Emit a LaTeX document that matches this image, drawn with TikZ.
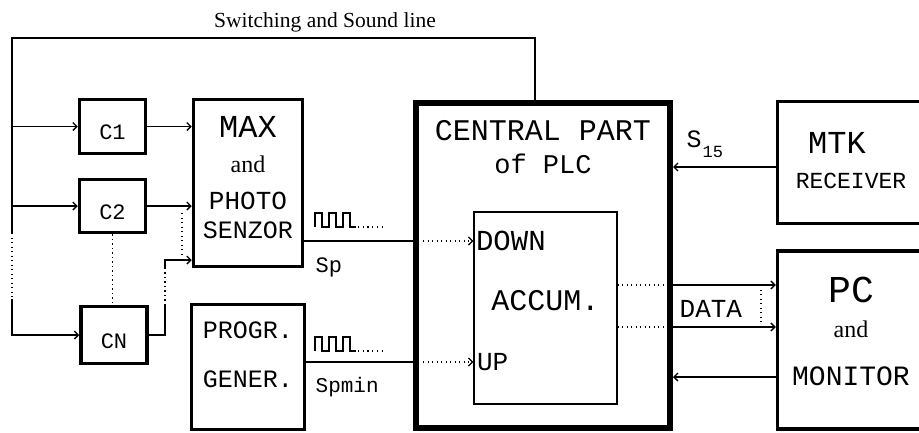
\documentclass[tikz,border=0pt]{standalone}
\usepackage{fontspec}
\setmainfont{Liberation Serif}
\setmonofont{Liberation Mono}
\usetikzlibrary{arrows.meta}
\newcommand{\fsz}[1]{\fontsize{#1}{#1}\selectfont}
% small square wave with trailing dots
\newcommand{\pulsetrain}[1]{%
  \draw[line width=1.2pt] (#1) -- ++(0,-14) -- ++(7,0) -- ++(0,14) -- ++(7,0)
    -- ++(0,-14) -- ++(7,0) -- ++(0,14) -- ++(7,0)
    -- ++(0,-14) -- ++(7,0) -- ++(0,14) -- ++(6,0);
  \draw[line width=1.2pt, dash pattern=on 1.2pt off 3.5pt] ([xshift=43pt]#1) -- ++(24,0);}

\begin{document}
\begin{tikzpicture}[x=1pt, y=-1pt, line width=1.3pt,
  >={Straight Barb[length=4pt,width=8pt]},
  blk/.style={draw, line width=3.5pt, inner sep=0pt, align=center, font=\ttfamily},
  cbox/.style={blk, minimum width=66pt, text height=26pt, text depth=0pt},
  plcbox/.style={draw, line width=6pt, inner sep=0pt},
  acc/.style={draw, line width=1.2pt, inner sep=0pt, font=\ttfamily},
  lbl/.style={inner sep=0pt, font=\ttfamily},
  dots/.style={line width=1.3pt, dash pattern=on 1.3pt off 3.2pt},
]
\path[use as bounding box, fill=white] (0,0) rectangle (919,432);

\node[cbox, minimum height=54pt] (c1) at (112.5,126.5) {\fsz{22}C1};
\node[cbox, minimum height=53pt] (c2) at (112.5,206) {\fsz{22}C2};
\node[cbox, minimum height=57pt] (cn) at (114,335) {\fsz{22}CN};
\node[blk, minimum width=109pt, minimum height=167pt, text depth=11pt] (max) at (248,183)
  {\fsz{32}MAX\\[17pt]\rmfamily\fsz{24}and\\[19pt]\fsz{26}PHOTO\\[11pt]\fsz{25}SENZOR};
\node[blk, minimum width=113pt, minimum height=125pt, text depth=24pt] (progr) at (248,367)
  {\fsz{25}PROGR.\\[31pt]\fsz{25}GENER.};

\node[plcbox, minimum width=254pt, minimum height=325pt] (plc) at (543,265.5) {};
\node[lbl, anchor=north, align=center] (plctxt) at (543,120)
  {\fsz{30}CENTRAL PART\\[12pt]\fsz{27}of PLC};
\node[acc, minimum width=143pt, minimum height=192pt, text depth=15pt] (accum) at (545.5,308)
  {\fsz{30}ACCUM.};
\node[lbl, anchor=west, inner xsep=2pt] (down) at (accum.west |- 0,241) {\fsz{29}DOWN};
\node[lbl, anchor=west, inner xsep=3pt] (up) at (accum.west |- 0,362) {\fsz{26}UP};

\node[blk, minimum width=147pt, minimum height=122pt, text depth=4pt] (mtk) at (851,162.5)
  {\fsz{32}MTK\hspace*{28pt}\\[19pt]\fsz{23}RECEIVER};
\node[blk, minimum width=147pt, minimum height=178pt, text depth=18pt] (pc) at (851,340)
  {\fsz{38}PC\\[17pt]\rmfamily\fsz{24}and\\[28pt]\fsz{28}MONITOR};

\node[inner sep=0pt, anchor=base, font=\fsz{21.5}] (title) at (325,27) {Switching and Sound line};
\node[lbl, anchor=base west] (sp) at (315,272) {\fsz{22}Sp};
\node[lbl, anchor=base west] (spmin) at (315,392) {\fsz{21}Spmin};
\node[lbl, anchor=base west] (data) at (679,317) {\fsz{26}DATA};
\node[lbl, anchor=base west] (s15) at (686,147) {\fsz{25}S\hspace{1pt}\raisebox{-10pt}{\fsz{17}15}};

% switching and sound bus
\coordinate (bustop) at (12,38);
\coordinate (busA) at (12,233);
\coordinate (busB) at (12,299);
\draw ([xshift=-8pt]plc.north) |- (bustop) -- (busA);
\draw[dots] (busA) -- (busB);
\draw[->] (busB) |- (cn);
\draw[->] (bustop |- c1) -- (c1);
\draw[->] (bustop |- c2) -- (c2);
\draw[dots] (c2.south) -- (c2.south |- cn.north);

\draw[->] (c1) -- (c1 -| max.west);
\draw[->] (c2) -- (c2 -| max.west);
\coordinate (cnA) at (165,305);
\coordinate (cnB) at (165,268);
\coordinate (cnC) at (165,260);
\draw (cn) -- (cn -| cnA) -- (cnA);
\draw[dots] (cnA) -- (cnB);
\draw[->] (cnB) -- (cnC) -- (cnC -| max.west);
\coordinate (inA) at (182,213);
\coordinate (inB) at (182,255);
\draw[dots] (inA) -- (inB);

% pulse signals into the accumulator
\coordinate (pulseA) at (315,227);
\coordinate (pulseB) at (315,351);
\pulsetrain{pulseA}
\pulsetrain{pulseB}
\draw (max.east |- down) -- (plc.west |- down);
\draw[dots, ->] ([xshift=10pt]plc.west |- down) -- (down.west);
\draw (progr.east |- up) -- (plc.west |- up);
\draw[dots, ->] ([xshift=10pt]plc.west |- up) -- (up.west);

% data to PC
\coordinate (dtop) at (673,285);
\coordinate (dbot) at (673,327);
\draw[dots] (accum.east |- dtop) -- ([xshift=-6pt]dtop);
\draw[dots] (accum.east |- dbot) -- ([xshift=-6pt]dbot);
\draw[->] (dtop) -- (pc.west |- dtop);
\draw[->] (dbot) -- (pc.west |- dbot);
\draw[dots] ([xshift=88pt]dtop) -- ([xshift=88pt]dbot);

\draw[->] ([yshift=-4.5pt]mtk.west) -- ([yshift=-4.5pt]mtk.west -| plc.east);
\draw[->] ([yshift=-37pt]pc.west) -- ([yshift=-37pt]pc.west -| plc.east);
\end{tikzpicture}
\end{document}
